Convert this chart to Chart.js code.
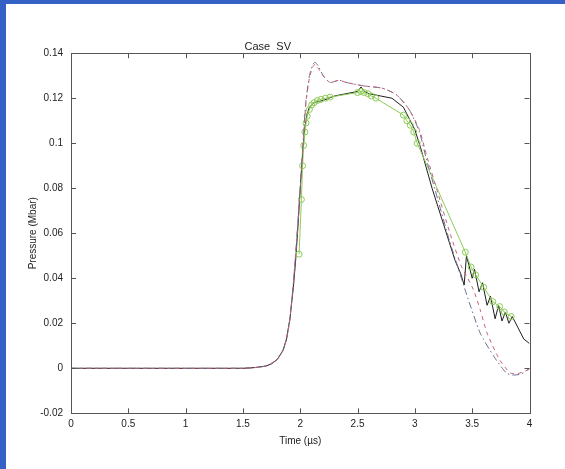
<!DOCTYPE html>
<html>
<head>
<meta charset="utf-8">
<script src="https://cdn.jsdelivr.net/npm/chart.js@4.4.0/dist/chart.umd.min.js"></script>
<style>
  html, body { margin: 0; padding: 0; }
  body { width: 565px; height: 469px; background: #3560c6; position: relative; overflow: hidden; }
  #wrap { position: absolute; left: 6px; top: 4px; width: 559px; height: 465px; background: #fff; }
</style>
</head>
<body>
<div id="wrap"><canvas id="pressureChart" width="559" height="465"></canvas></div>
<script>
// Experiment (solid black)
const expTime = [0, 1.5, 1.6, 1.7, 1.75, 1.8, 1.85, 1.88, 1.91, 1.94, 1.96, 1.98, 2.0, 2.02, 2.04, 2.06, 2.08, 2.12, 2.2, 2.3, 2.4, 2.5, 2.53, 2.56, 2.6, 2.7, 2.8, 2.9, 3.0, 3.05, 3.1, 3.15, 3.2, 3.25, 3.3, 3.35, 3.4, 3.43, 3.45, 3.5, 3.52, 3.56, 3.59, 3.63, 3.66, 3.7, 3.73, 3.76, 3.79, 3.82, 3.85, 3.9, 3.95, 4.0];
const expPressure = [0, 0, 0.0003, 0.001, 0.002, 0.004, 0.008, 0.013, 0.022, 0.036, 0.048, 0.063, 0.08, 0.095, 0.107, 0.113, 0.116, 0.118, 0.119, 0.121, 0.122, 0.123, 0.125, 0.123, 0.122, 0.121, 0.12, 0.116, 0.106, 0.098, 0.089, 0.08, 0.072, 0.064, 0.056, 0.048, 0.042, 0.037, 0.05, 0.04, 0.044, 0.034, 0.038, 0.028, 0.032, 0.022, 0.028, 0.021, 0.025, 0.02, 0.023, 0.018, 0.013, 0.011];

// Simulation A (dash-dot)
const simATime = [0, 1.5, 1.6, 1.7, 1.75, 1.8, 1.85, 1.88, 1.91, 1.94, 1.97, 2.0, 2.03, 2.05, 2.08, 2.11, 2.13, 2.16, 2.2, 2.26, 2.34, 2.4, 2.55, 2.72, 2.84, 2.95, 3.04, 3.1, 3.2, 3.3, 3.4, 3.45, 3.57, 3.69, 3.8, 3.86, 3.93, 4.0];
const simAPressure = [0, 0, 0.0003, 0.001, 0.002, 0.004, 0.008, 0.013, 0.022, 0.038, 0.058, 0.08, 0.105, 0.119, 0.13, 0.135, 0.136, 0.134, 0.13, 0.127, 0.128, 0.127, 0.1255, 0.1244, 0.1215, 0.115, 0.105, 0.093, 0.075, 0.057, 0.041, 0.033, 0.0156, 0.0052, -0.0022, -0.003, -0.0025, 0];

// Simulation B (red dashed)
const simBTime = [0, 1.5, 1.6, 1.7, 1.8, 1.85, 1.88, 1.91, 1.94, 1.97, 2.0, 2.03, 2.05, 2.08, 2.11, 2.13, 2.16, 2.2, 2.26, 2.34, 2.4, 2.55, 2.72, 2.84, 2.95, 3.04, 3.1, 3.2, 3.3, 3.4, 3.45, 3.51, 3.57, 3.63, 3.74, 3.83, 3.89, 4.0];
const simBPressure = [0, 0, 0.0003, 0.001, 0.004, 0.008, 0.013, 0.022, 0.038, 0.058, 0.08, 0.104, 0.118, 0.129, 0.134, 0.135, 0.133, 0.13, 0.127, 0.128, 0.127, 0.1255, 0.1244, 0.1215, 0.115, 0.106, 0.095, 0.078, 0.061, 0.046, 0.041, 0.035, 0.026, 0.0156, 0.0037, -0.002, -0.0025, -0.0004];

// Model with markers (green circles)
const modelTime = [1.99, 2.01, 2.02, 2.03, 2.04, 2.05, 2.06, 2.08, 2.1, 2.12, 2.15, 2.18, 2.22, 2.26, 2.5, 2.53, 2.56, 2.59, 2.62, 2.66, 2.9, 2.93, 2.96, 2.99, 3.02, 3.44, 3.49, 3.53, 3.6, 3.68, 3.74, 3.78, 3.84];
const modelPressure = [0.0507, 0.075, 0.09, 0.099, 0.105, 0.109, 0.112, 0.115, 0.117, 0.118, 0.119, 0.1195, 0.12, 0.1205, 0.1225, 0.123, 0.1225, 0.122, 0.121, 0.12, 0.1125, 0.11, 0.108, 0.105, 0.1, 0.0516, 0.045, 0.0415, 0.036, 0.0296, 0.0274, 0.025, 0.023];

const xTicks = [0, 0.5, 1, 1.5, 2, 2.5, 3, 3.5, 4];
const yTicks = [-0.02, 0, 0.02, 0.04, 0.06, 0.08, 0.1, 0.12, 0.14];

function toPoints(xs, ys) {
    return xs.map((x, i) => ({ x: x, y: ys[i] }));
}

// MATLAB style box with inward ticks
const boxPlugin = {
    id: 'box',
    afterDraw(chart) {
        const { ctx, chartArea: a, scales } = chart;
        ctx.save();
        ctx.strokeStyle = '#555';
        ctx.lineWidth = 1;
        ctx.strokeRect(Math.round(a.left) + 0.5, Math.round(a.top) + 0.5,
            Math.round(a.right - a.left), Math.round(a.bottom - a.top));
        ctx.beginPath();
        xTicks.forEach(v => {
            const px = Math.round(scales.x.getPixelForValue(v)) + 0.5;
            ctx.moveTo(px, a.bottom); ctx.lineTo(px, a.bottom - 5);
            ctx.moveTo(px, a.top); ctx.lineTo(px, a.top + 5);
        });
        yTicks.forEach(v => {
            const py = Math.round(scales.y.getPixelForValue(v)) + 0.5;
            ctx.moveTo(a.left, py); ctx.lineTo(a.left + 5, py);
            ctx.moveTo(a.right, py); ctx.lineTo(a.right - 5, py);
        });
        ctx.stroke();
        ctx.restore();
    }
};

const font = { family: '"Liberation Sans", Arial, sans-serif', size: 10 };

const ctx = document.getElementById('pressureChart').getContext('2d');
const pressureChart = new Chart(ctx, {
    type: 'line',
    data: {
        datasets: [
            {
                label: 'Simulation B',
                data: toPoints(simBTime, simBPressure),
                borderColor: '#c8607a',
                borderWidth: 1,
                borderDash: [4, 4],
                pointRadius: 0,
                tension: 0.2
            },
            {
                label: 'Simulation A',
                data: toPoints(simATime, simAPressure),
                borderColor: '#6a6e90',
                borderWidth: 1,
                borderDash: [7, 3, 1.5, 3],
                pointRadius: 0,
                tension: 0.2
            },
            {
                label: 'Model',
                data: toPoints(modelTime, modelPressure),
                borderColor: '#8ccc55',
                borderWidth: 1,
                pointRadius: 3,
                pointBorderColor: '#8ccc55',
                pointBackgroundColor: 'rgba(0,0,0,0)',
                pointBorderWidth: 1,
                tension: 0
            },
            {
                label: 'Experiment',
                data: toPoints(expTime, expPressure),
                borderColor: '#1e1e1e',
                borderWidth: 1,
                pointRadius: 0,
                tension: 0
            }
        ]
    },
    options: {
        responsive: false,
        animation: false,
        layout: { padding: { left: 0, right: 35.5, top: 0, bottom: 0 } },
        plugins: {
            legend: { display: false },
            tooltip: { enabled: false },
            title: {
                display: true,
                text: 'Case  SV',
                color: '#222',
                font: { family: font.family, size: 11, weight: 'normal' },
                padding: { top: 36, bottom: 0 }
            }
        },
        scales: {
            x: {
                type: 'linear',
                min: 0,
                max: 4,
                afterFit(scale) { scale.height = 55.7; },
                afterBuildTicks(scale) { scale.ticks = xTicks.map(v => ({ value: v })); },
                grid: { display: false, drawTicks: false },
                border: { display: false },
                ticks: {
                    color: '#222',
                    font: font,
                    padding: 5,
                    maxRotation: 0,
                    callback: v => String(v)
                },
                title: {
                    display: true,
                    text: 'Time (\u00b5s)',
                    color: '#222',
                    font: font,
                    padding: { top: 0, bottom: 22 }
                }
            },
            y: {
                min: -0.02,
                max: 0.14,
                afterFit(scale) { scale.width = 65; },
                afterBuildTicks(scale) { scale.ticks = yTicks.map(v => ({ value: v })); },
                grid: { display: false, drawTicks: false },
                border: { display: false },
                ticks: {
                    color: '#222',
                    font: font,
                    padding: 8,
                    callback: v => String(Number(v.toFixed(2)))
                },
                title: {
                    display: true,
                    text: 'Pressure (Mbar)',
                    color: '#222',
                    font: font,
                    padding: { top: 21, bottom: 0 }
                }
            }
        }
    },
    plugins: [boxPlugin]
});
</script>
</body>
</html>
